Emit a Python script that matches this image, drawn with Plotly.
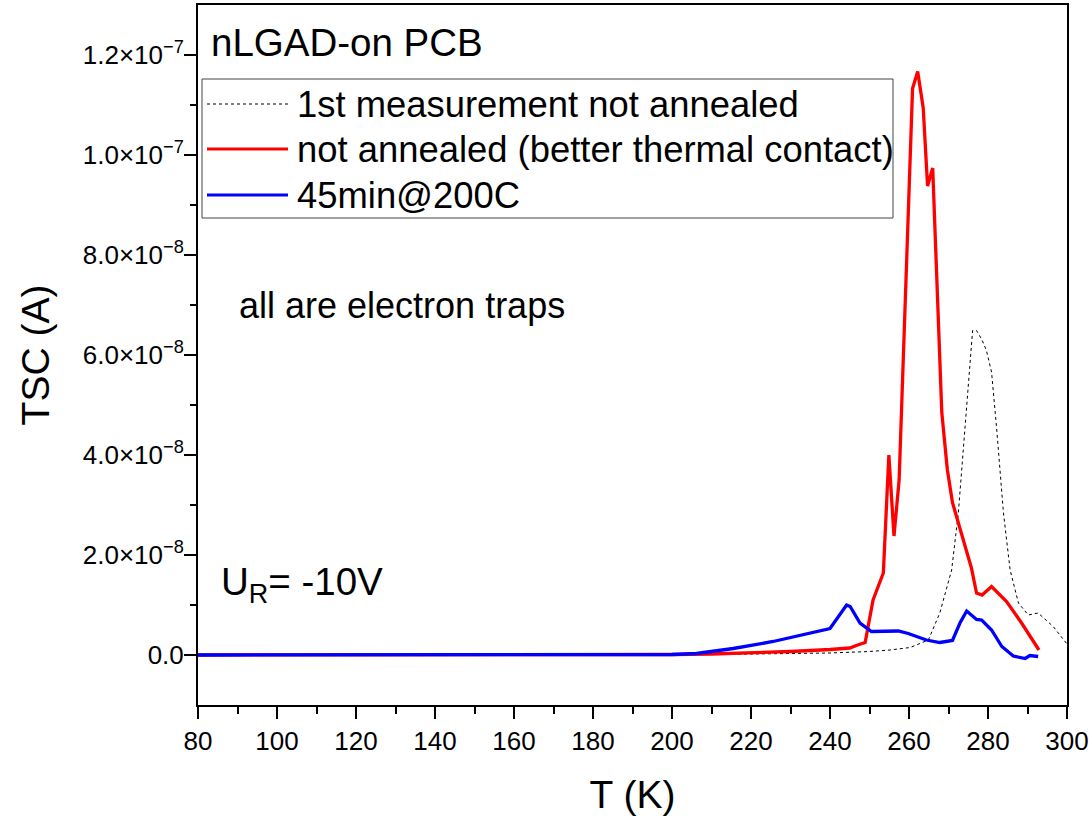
import plotly.graph_objects as go

SCALE = 1e-8  # values below are in units of 1e-8 A

# 1st measurement not annealed (black dashed)
t_first = [80, 150, 200, 220, 240, 250, 255.2, 260.3, 264.9, 267.8, 270.8, 272.5, 273.8, 275.0,
           276.1, 277.1, 278.5, 279.6, 280.9, 282.2, 283.9, 285.6, 287.7, 290.2, 292.7, 296.5, 299.9, 302]
v_first = [0, 0, 0.01, 0.02, 0.04, 0.07, 0.1, 0.15, 0.3, 0.84, 1.7, 2.85, 4.18, 5.52,
           6.49, 6.49, 6.3, 6.09, 5.66, 4.52, 2.85, 1.7, 1.04, 0.8, 0.84, 0.57, 0.23, 0.1]

# not annealed (better thermal contact) (red)
t_red = [80, 150, 200, 210, 220, 230, 240, 245, 247, 248.9, 250.9, 253.5, 254.9, 256.2, 257.5,
         259.0, 260.9, 262.2, 263.6, 264.7, 266.0, 268.3, 269.7, 271.0, 275.8, 277.1, 278.5,
         280.9, 284.7, 288.5, 292.9]
v_red = [0, 0, 0.01, 0.02, 0.04, 0.07, 0.11, 0.14, 0.2, 0.25, 1.1, 1.64, 4.0, 2.38, 3.5,
         6.9, 11.33, 11.67, 10.94, 9.38, 9.74, 4.85, 3.71, 3.05, 1.74, 1.24, 1.2,
         1.37, 1.07, 0.64, 0.1]

# 45min@200C (blue)
t_blue = [80, 150, 182, 200, 206.2, 215.5, 225.6, 234.9, 240, 244.2, 245.1, 247.6, 250.5, 257.3,
          259.8, 264.4, 267.8, 271.0, 272.9, 274.6, 277.1, 278.4, 280.9, 283.5, 286.4, 289.4,
          290.6, 292.7]
v_blue = [0, 0, 0, 0.01, 0.03, 0.13, 0.27, 0.43, 0.53, 1.0, 0.97, 0.64, 0.47, 0.48,
          0.43, 0.3, 0.25, 0.29, 0.64, 0.88, 0.71, 0.7, 0.5, 0.17, -0.02, -0.07,
          -0.01, -0.03]

series_names = ["1st measurement not annealed",
                "not annealed (better thermal contact)",
                "45min@200C"]

y_tickvals = [0, 2e-8, 4e-8, 6e-8, 8e-8, 1.0e-7, 1.2e-7]
y_ticktext = ["0.0", "2.0×10<sup>−8</sup>", "4.0×10<sup>−8</sup>", "6.0×10<sup>−8</sup>",
              "8.0×10<sup>−8</sup>", "1.0×10<sup>−7</sup>", "1.2×10<sup>−7</sup>"]
y_minor = [1e-8, 3e-8, 5e-8, 7e-8, 9e-8, 1.1e-7]

FONT = "Liberation Sans, Arial, sans-serif"

fig = go.Figure()
fig.add_trace(go.Scatter(x=t_first, y=[v * SCALE for v in v_first], mode="lines",
                         name=series_names[0],
                         line=dict(color="black", width=1, dash="3px,3px")))
fig.add_trace(go.Scatter(x=t_red, y=[v * SCALE for v in v_red], mode="lines",
                         name=series_names[1], line=dict(color="#ff0000", width=3.3)))
fig.add_trace(go.Scatter(x=t_blue, y=[v * SCALE for v in v_blue], mode="lines",
                         name=series_names[2], line=dict(color="#0000ff", width=3.3)))

# plot-area pixel geometry helpers (paper coords)
L, R, T, B = 198, 1067, 5, 705
def px(xp):
    return (xp - L) / (R - L)
def py(yp):
    return (B - yp) / (B - T)

shapes = [dict(type="rect", xref="paper", yref="paper",
               x0=px(202), x1=px(893), y0=py(218), y1=py(79),
               line=dict(color="#444444", width=1), fillcolor="white", layer="above")]
legend_rows = [104, 149, 195]
legend_styles = [dict(color="black", width=1, dash="3px,3px"),
                 dict(color="#ff0000", width=3),
                 dict(color="#0000ff", width=3)]
annotations = []
for row, style, name in zip(legend_rows, legend_styles, series_names):
    shapes.append(dict(type="line", xref="paper", yref="paper",
                       x0=px(207), x1=px(288), y0=py(row), y1=py(row), line=style, layer="above"))
    annotations.append(dict(xref="paper", yref="paper", x=px(295), y=py(row),
                            xanchor="left", yanchor="middle", text=name, showarrow=False,
                            font=dict(family=FONT, size=36.4, color="black")))

annotations += [
    dict(xref="paper", yref="paper", x=px(209), y=py(43), xanchor="left", yanchor="middle",
         text="nLGAD-on PCB", showarrow=False, font=dict(family=FONT, size=38.5, color="black")),
    dict(xref="paper", yref="paper", x=px(237), y=py(305), xanchor="left", yanchor="middle",
         text="all are electron traps", showarrow=False, font=dict(family=FONT, size=36, color="black")),
    dict(xref="paper", yref="paper", x=px(219), y=py(584), xanchor="left", yanchor="middle",
         text="U<sub>R</sub>= -10V", showarrow=False, font=dict(family=FONT, size=38.5, color="black")),
]

axis_common = dict(showline=True, linewidth=2, linecolor="black", mirror=True,
                   ticks="outside", ticklen=12, tickwidth=2, tickcolor="black",
                   showgrid=False, zeroline=False,
                   tickfont=dict(family=FONT, size=26, color="black"))

fig.update_layout(
    width=1092, height=816,
    margin=dict(l=L, r=1092 - R, t=T, b=816 - B, autoexpand=False),
    paper_bgcolor="white", plot_bgcolor="white",
    showlegend=False,
    shapes=shapes, annotations=annotations,
    xaxis=dict(range=[80, 300], tickmode="linear", tick0=80, dtick=20,
               minor=dict(dtick=10, tick0=80, ticks="outside", ticklen=7, tickwidth=2, tickcolor="black"),
               title=dict(text="T (K)", font=dict(family=FONT, size=39, color="black"), standoff=28),
               **axis_common),
    yaxis=dict(range=[-1e-8, 1.3e-7], tickmode="array", tickvals=y_tickvals, ticktext=y_ticktext,
               minor=dict(tickmode="array", tickvals=y_minor, ticks="outside", ticklen=6, tickwidth=2,
                          tickcolor="black"),
               ticklabelstandoff=-5,
               title=dict(text="TSC (A)", font=dict(family=FONT, size=39, color="black"), standoff=21),
               **axis_common),
)

fig.write_html("out.html", config={"displayModeBar": False},
               post_script="document.body.style.margin='0';document.body.style.overflow='hidden';")
